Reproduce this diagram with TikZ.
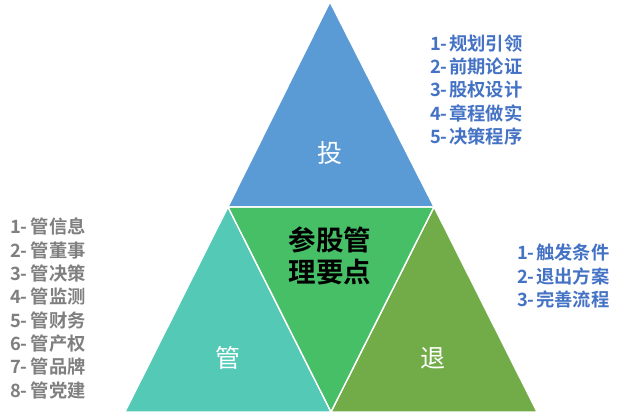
\documentclass[tikz,border=0pt]{standalone}
\usepackage{fontspec}
\setmainfont{Noto Sans CJK SC}[BoldFont={* Bold}]
\definecolor{cblue}{HTML}{5B9BD5}
\definecolor{cteal}{HTML}{53C9B6}
\definecolor{cgreen}{HTML}{47BF67}
\definecolor{colive}{HTML}{72AC48}
\definecolor{tblue}{HTML}{4472C4}
\definecolor{tgray}{HTML}{7F7F7F}
\newcommand{\itm}[2]{#1-\kern1.5pt#2}
\newcommand{\itg}[2]{#1-\kern3pt#2}
\begin{document}
\begin{tikzpicture}[x=1pt,y=-1pt,
  tri/.style={draw=white,line width=1.2pt,line join=miter},
  biglab/.style={font=\fontsize{25}{25}\selectfont,text=white},
  listb/.style={font=\bfseries\fontsize{18.3}{23.2}\selectfont,text=tblue,align=left,anchor=west,inner sep=0pt},
  listg/.style={font=\bfseries\fontsize{18.3}{23.3}\selectfont,text=tgray,align=left,anchor=west,inner sep=0pt},
  center/.style={font=\bfseries\fontsize{27.5}{32}\selectfont,text=black,align=center}]
\useasboundingbox (0,0) rectangle (625,419);
\coordinate (A) at (330,2);
\coordinate (L) at (125,412);
\coordinate (R) at (537,412);
\coordinate (ML) at (228,207);
\coordinate (MR) at (434,207);
\coordinate (MB) at (331,412);
\fill[tri,fill=cblue] (A) -- (MR) -- (ML) -- cycle;
\fill[tri,fill=cteal] (ML) -- (MB) -- (L) -- cycle;
\fill[tri,fill=colive] (MR) -- (R) -- (MB) -- cycle;
\fill[tri,fill=cgreen] (ML) -- (MR) -- (MB) -- cycle;
\draw[white,line width=1.2pt] (ML) -- (MR) -- (MB) -- cycle;
\node[biglab] (tou) at (330,153) {投};
\node[biglab] (guan) at (228,358) {管};
\node[biglab] (tui) at (433,358) {退};
\node[center] (mid) at (330,256) {参股管\\理要点};
\node[listb] (lt) at (430,90) {\itm{1}{规划引领}\\\itm{2}{前期论证}\\\itm{3}{股权设计}\\\itm{4}{章程做实}\\\itm{5}{决策程序}};
\node[listg] (ll) at (10,308.5) {\itg{1}{管信息}\\\itg{2}{管董事}\\\itg{3}{管决策}\\\itg{4}{管监测}\\\itg{5}{管财务}\\\itg{6}{管产权}\\\itg{7}{管品牌}\\\itg{8}{管党建}};
\node[listb] (lr) at (517,276) {\itm{1}{触发条件}\\\itm{2}{退出方案}\\\itm{3}{完善流程}};
\end{tikzpicture}
\end{document}
